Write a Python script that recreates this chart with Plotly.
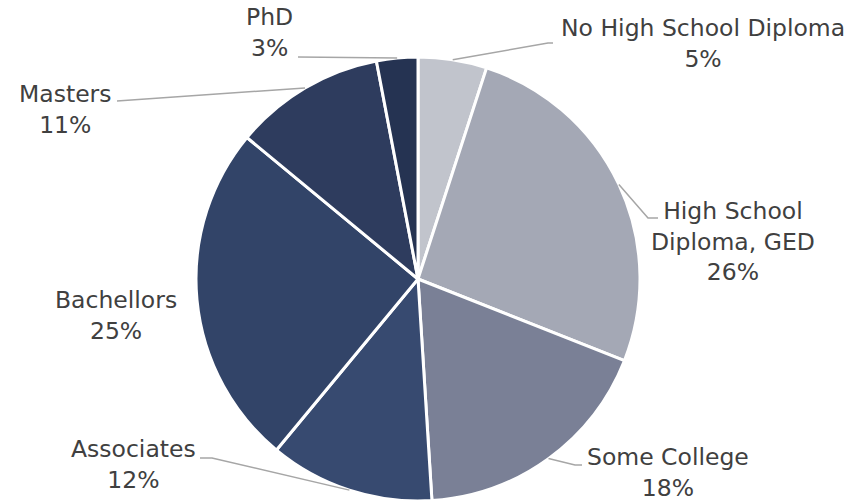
import math
import plotly.graph_objects as go

# ---- data ----
categories = ["No High School Diploma", "High School Diploma, GED", "Some College",
              "Associates", "Bachellors", "Masters", "PhD"]
label_text = ["No High School Diploma", "High School<br>Diploma, GED", "Some College",
              "Associates", "Bachellors", "Masters", "PhD"]
percent = [5, 26, 18, 12, 25, 11, 3]
colors = ["#c1c4cc", "#a4a8b5", "#7a8096", "#374a70", "#324468", "#2e3c5e", "#253352"]

# ---- layout constants (pixels) ----
W, H = 867, 502
CX, CY, R = 418, 279, 222
# label centre (px) and leader elbow/end (px) per slice; None => no leader line
label_pos = [(703, 43), (733, 241), (668, 472), (133, 464), (116, 315), (65, 109), (269, 33)]
leader = [[(548, 43), (553, 43)],
          [(648, 218), (658, 218)],
          [(575, 465), (582, 465)],
          [(212, 458), (200, 458)],
          None,
          [(117, 101)],
          [(298, 57)]]

def px(x, y):
    return x / W, 1 - y / H

fig = go.Figure(go.Pie(
    labels=categories, values=percent, sort=False, direction="clockwise", rotation=0,
    marker=dict(colors=colors, line=dict(color="white", width=3)),
    textinfo="none", hoverinfo="label+percent", showlegend=False,
    domain=dict(x=[(CX - R) / W, (CX + R) / W], y=[1 - (CY + R) / H, 1 - (CY - R) / H]),
))

total = sum(percent)
cum = 0
annotations, shapes = [], []
for i, v in enumerate(percent):
    mid = (cum + v / 2) / total * 2 * math.pi
    cum += v
    ex, ey = CX + R * math.sin(mid), CY - R * math.cos(mid)
    lx, ly = label_pos[i]
    ax_, ay_ = px(lx, ly)
    annotations.append(dict(x=ax_, y=ay_, xref="paper", yref="paper", showarrow=False,
                            xanchor="center", yanchor="middle",
                            text=f"{label_text[i]}<br>{v}%", align="center",
                            font=dict(family="DejaVu Sans, Verdana", size=23.5, color="#404040")))
    if leader[i]:
        pts = [(ex, ey)] + leader[i]
        path = "M " + " L ".join(f"{px(x, y)[0]},{px(x, y)[1]}" for x, y in pts)
        shapes.append(dict(type="path", xref="paper", yref="paper", path=path,
                           line=dict(color="#a6a6a6", width=1.5)))

fig.update_layout(width=W, height=H, margin=dict(l=0, r=0, t=0, b=0),
                  paper_bgcolor="white", plot_bgcolor="white",
                  annotations=annotations, shapes=shapes)
fig.write_html("out.html", config={"displayModeBar": False},
               post_script="document.body.style.margin='0';")
